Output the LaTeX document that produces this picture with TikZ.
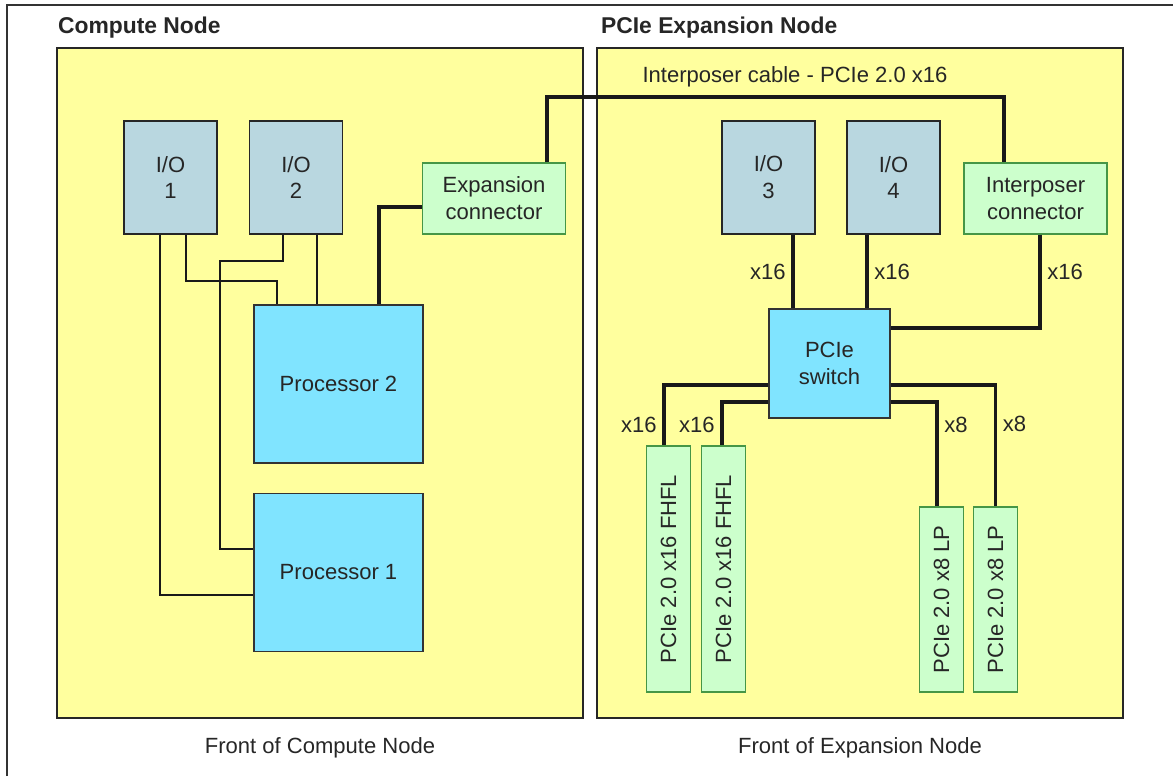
\documentclass[tikz,border=0pt]{standalone}
\usepackage{fontspec}
\setmainfont{Liberation Sans}
\usetikzlibrary{positioning, calc}

\definecolor{panelyellow}{RGB}{255,255,158}
\definecolor{iogrey}{RGB}{185,215,224}
\definecolor{cpublue}{RGB}{128,228,255}
\definecolor{connfill}{RGB}{204,255,204}
\definecolor{conndraw}{RGB}{70,150,70}

\begin{document}
\begin{tikzpicture}[
        x=0.03cm, y=-0.03cm,
        every node/.style={font=\fontsize{18.8}{23}\selectfont, text=black!85},
        panel/.style={rectangle, draw=black!85, line width=1.5pt, fill=panelyellow, minimum width=15.78cm, minimum height=20.1cm},
        title/.style={anchor=west, font=\fontsize{19.5}{23}\selectfont\bfseries},
        iobox/.style={rectangle, draw=black!85, line width=1.2pt, fill=iogrey, minimum width=2.79cm, minimum height=3.39cm, align=center, inner sep=0pt},
        cpu/.style={rectangle, draw=black!80, line width=1.2pt, fill=cpublue, minimum width=5.07cm, minimum height=4.73cm, align=center},
        conn/.style={rectangle, draw=conndraw, line width=1.2pt, fill=connfill, minimum width=4.28cm, minimum height=2.13cm, align=center, inner sep=0pt},
        card/.style={rectangle, draw=conndraw, line width=1.2pt, fill=connfill, minimum width=1.32cm, inner sep=0pt},
        wire/.style={draw=black!90, line width=1.3pt},
        bus/.style={draw=black!90, line width=2.6pt},
        lanes/.style={inner sep=5pt}
    ]
        \useasboundingbox (0,0) rectangle (1173,776);
        \draw[line width=1.2pt, black!80] (7,776) -- (7,5) -- (1173,5);

        % Panels
        \node[panel] (cpanel) at (320,383) {};
        \node[panel] (epanel) at (860,383) {};
        \node[title] (ctitle) at (54,28) {Compute Node};
        \node[title] (etitle) at (597,28) {PCIe Expansion Node};
        \node (ccaption) at (320,748) {Front of Compute Node};
        \node (ecaption) at (860,748) {Front of Expansion Node};

        % Compute node
        \node[iobox] (io1) at (170.5,177.5) {I/O\\1};
        \node[iobox] (io2) at (296,177.5) {I/O\\2};
        \node[conn] (expconn) at (494,198.5) {Expansion\\connector};
        \node[cpu] (proc2) at (338.5,384) {Processor 2};
        \node[cpu] (proc1) at (338.5,572.5) {Processor 1};

        % Expansion node
        \node[iobox] (io3) at (768.5,177.5) {I/O\\3};
        \node[iobox] (io4) at (893.5,177.5) {I/O\\4};
        \node[conn] (intconn) at (1035.5,198.5) {Interposer\\connector};
        \node[cpu, minimum width=3.63cm, minimum height=3.27cm] (switch) at (829.5,363.5) {PCIe\\switch};
        \node[card, minimum height=7.38cm] (card1) at (668.5,569) {\rotatebox{90}{PCIe 2.0 x16 FHFL}};
        \node[card, minimum height=7.38cm] (card2) at (723.5,569) {\rotatebox{90}{PCIe 2.0 x16 FHFL}};
        \node[card, minimum height=5.55cm] (card3) at (941.5,599.5) {\rotatebox{90}{PCIe 2.0 x8 LP}};
        \node[card, minimum height=5.55cm] (card4) at (995.5,599.5) {\rotatebox{90}{PCIe 2.0 x8 LP}};

        % Wires in compute node
        \draw[wire] (io1.south -| 160,0) |- (proc1.west |- 0,595);
        \draw[wire] (io1.south -| 186,0) -- (186,281) -| (proc2.north -| 277,0);
        \draw[wire] (io2.south -| 283,0) -- (283,261) -| (220,549) -- (proc1.west |- 0,549);
        \draw[wire] (io2.south -| 317,0) -- (proc2.north -| 317,0);
        \draw[bus] (proc2.north -| 379,0) |- (expconn.west |- 0,207);

        % Interposer cable
        \coordinate (cablebend) at (1004,97);
        \draw[bus] (expconn.north -| 547,0) |- (cablebend) -- (intconn.north -| cablebend);
        \node (cablelabel) at (795,77) {Interposer cable - PCIe 2.0 x16};

        % Lanes in expansion node
        \draw[bus] (io3.south -| 793,0) -- node[left, lanes] {x16} (switch.north -| 793,0);
        \draw[bus] (io4.south -| 867,0) -- node[right, lanes] {x16} (switch.north -| 867,0);
        \draw[bus] (intconn.south -| 1040,0) |- node[right, lanes, pos=0.2] {x16} (switch.east |- 0,328);
        \draw[bus] (switch.west |- 0,385) -| node[left, lanes, pos=0.83] {x16} (card1.north -| 664,0);
        \draw[bus] (switch.west |- 0,402) -| node[left, lanes, pos=0.76] {x16} (card2.north -| 722,0);
        \draw[bus] (switch.east |- 0,402) -| node[right, lanes, pos=0.61] {x8} (card3.north -| 937,0);
        \draw[bus] (switch.east |- 0,385) -| node[right, lanes, pos=0.66] {x8} (card4.north);

    \end{tikzpicture}
\end{document}
